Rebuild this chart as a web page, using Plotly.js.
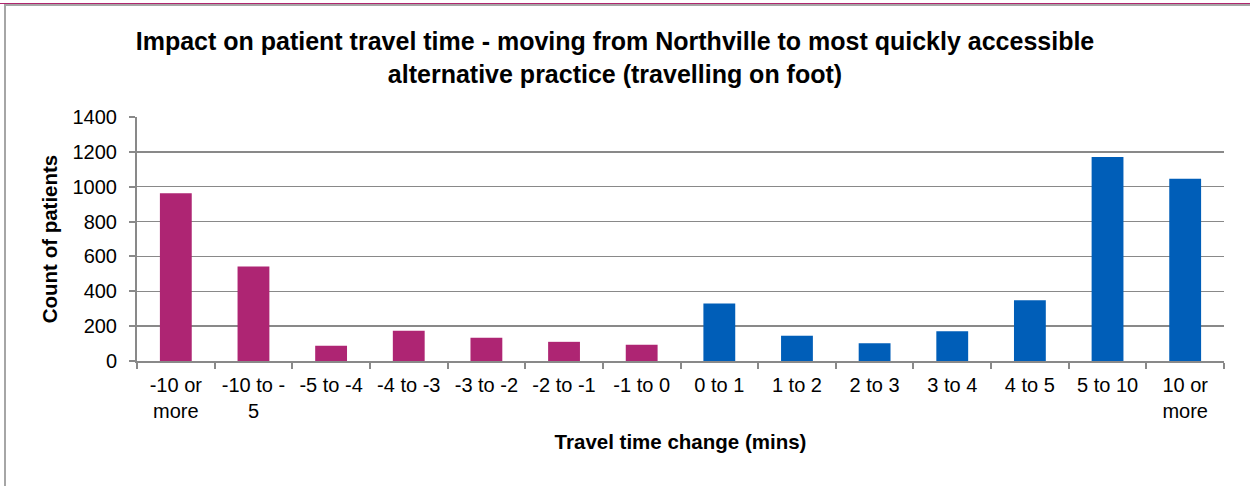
<!DOCTYPE html>
<html>
<head>
<meta charset="utf-8">
<script src="https://cdn.plot.ly/plotly-3.0.1.min.js"></script>
<style>
  html, body { margin: 0; padding: 0; background: #fff; }
  #wrap { position: relative; width: 1250px; height: 486px; overflow: hidden; }
  #chart { position: absolute; left: 0; top: 0; width: 1250px; height: 486px; }
  .rule-top { position: absolute; left: 0; top: 3px; width: 1250px; height: 1px; background: #b0266f; }
  .frame-top { position: absolute; left: 4px; top: 4px; width: 1246px; height: 2px; background: #a6a6a6; }
  .frame-left { position: absolute; left: 4px; top: 4px; width: 2px; height: 482px; background: #a6a6a6; }
</style>
</head>
<body>
<div id="wrap">
  <div id="chart"></div>
  <div class="rule-top"></div>
  <div class="frame-top"></div>
  <div class="frame-left"></div>
</div>
<script>
// Travel time bands (minutes), shorter journeys first
const categories = [
  "-10 or<br>more", "-10 to -<br>5", "-5 to -4", "-4 to -3", "-3 to -2", "-2 to -1", "-1 to 0",
  "0 to 1", "1 to 2", "2 to 3", "3 to 4", "4 to 5", "5 to 10", "10 or<br>more"
];

// Patients whose journey gets shorter
const shorterCats = categories.slice(0, 7);
const shorterCounts = [962, 542, 88, 174, 133, 110, 93];

// Patients whose journey gets longer
const longerCats = categories.slice(7);
const longerCounts = [330, 145, 102, 171, 348, 1170, 1046];

const yTicks = [0, 200, 400, 600, 800, 1000, 1200, 1400];

const font = "Liberation Sans, Arial, sans-serif";
const gridGrey = "#898989";

const traces = [
  {
    type: "bar", x: shorterCats, y: shorterCounts, width: 0.41,
    marker: { color: "#ae2573" }, hoverinfo: "x+y", showlegend: false
  },
  {
    type: "bar", x: longerCats, y: longerCounts, width: 0.41,
    marker: { color: "#005eb8" }, hoverinfo: "x+y", showlegend: false
  }
];

const layout = {
  width: 1250, height: 486,
  margin: { l: 137, r: 26, t: 117, b: 125, pad: 0 },
  paper_bgcolor: "#fff", plot_bgcolor: "#fff",
  barmode: "overlay",
  font: { family: font, color: "#000", size: 20 },
  title: {
    text: "<b>Impact on patient travel time - moving from Northville to most quickly accessible<br>alternative practice (travelling on foot)</b>",
    font: { family: font, size: 25, color: "#000" },
    xref: "container", x: 0.492, xanchor: "center",
    yref: "container", y: 1 - 50 / 486, yanchor: "middle"
  },
  xaxis: {
    type: "category", categoryorder: "array", categoryarray: categories,
    range: [-0.5, categories.length - 0.5],
    showline: true, linecolor: gridGrey, linewidth: 2,
    ticks: "outside", tickson: "boundaries", ticklen: 6, tickcolor: gridGrey, tickwidth: 2,
    showgrid: false, zeroline: false,
    tickfont: { family: font, size: 20, color: "#000" },
    ticklabelstandoff: 5,
    title: {
      text: "<b>Travel time change (mins)</b>",
      font: { family: font, size: 20.5, color: "#000" },
      standoff: 14
    }
  },
  yaxis: {
    range: [0, 1400], tickvals: yTicks, ticktext: yTicks.map(String),
    showline: true, linecolor: gridGrey, linewidth: 2,
    ticks: "outside", ticklen: 6, tickcolor: gridGrey, tickwidth: 2,
    showgrid: true, gridcolor: gridGrey, gridwidth: 1.5,
    zeroline: false,
    tickfont: { family: font, size: 20, color: "#000" },
    ticklabelstandoff: 8,
    title: {
      text: "<b>Count of patients</b>",
      font: { family: font, size: 20.5, color: "#000" },
      standoff: 9
    }
  }
};

Plotly.newPlot("chart", traces, layout, { displayModeBar: false, staticPlot: true });
</script>
</body>
</html>
